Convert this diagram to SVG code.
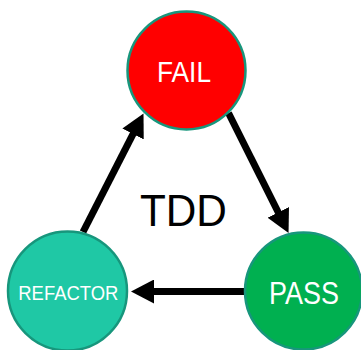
<svg xmlns="http://www.w3.org/2000/svg" width="361" height="350" viewBox="0 0 361 350">
  <style>
    .state { stroke: #17967C; stroke-width: 2.5; }
    .label { font-family: "Liberation Sans", Arial, sans-serif; fill: #FFFFFF; text-anchor: middle; }
    .title { font-family: "Liberation Sans", Arial, sans-serif; fill: #000000; text-anchor: middle; }
    .flow { stroke: #000000; stroke-width: 7; fill: none; marker-end: url(#head); }
  </style>
  <defs>
    <marker id="head" markerUnits="userSpaceOnUse" markerWidth="24" markerHeight="24" refX="1" refY="12" orient="auto">
      <path d="M0,0 L23,12 L0,24 Z" fill="#000000"/>
    </marker>
  </defs>

  <rect width="361" height="350" fill="#FFFFFF"/>

  <!-- cycle arrows -->
  <g id="connectors">
    <line class="flow" x1="83" y1="232" x2="133.5" y2="133.1"/>
    <line class="flow" x1="228.5" y1="113" x2="278.7" y2="213.3"/>
    <line class="flow" x1="246" y1="291.5" x2="153" y2="291.5"/>
  </g>

  <g id="fail">
    <circle class="state" cx="186.5" cy="70.5" r="59" fill="#FF0000"/>
    <text class="label" x="184" y="82" font-size="30" textLength="54" lengthAdjust="spacingAndGlyphs">FAIL</text>
  </g>

  <g id="pass">
    <circle class="state" cx="303.5" cy="291" r="58.5" fill="#00B050"/>
    <text class="label" x="304" y="303.5" font-size="31" textLength="70" lengthAdjust="spacingAndGlyphs">PASS</text>
  </g>

  <g id="refactor">
    <circle class="state" cx="67.5" cy="291" r="59.5" fill="#1FC8A5"/>
    <text class="label" x="68.3" y="300" font-size="21" textLength="100" lengthAdjust="spacingAndGlyphs">REFACTOR</text>
  </g>

  <g id="tdd">
    <text class="title" x="183.4" y="226" font-size="44" textLength="87" lengthAdjust="spacingAndGlyphs">TDD</text>
  </g>
</svg>
